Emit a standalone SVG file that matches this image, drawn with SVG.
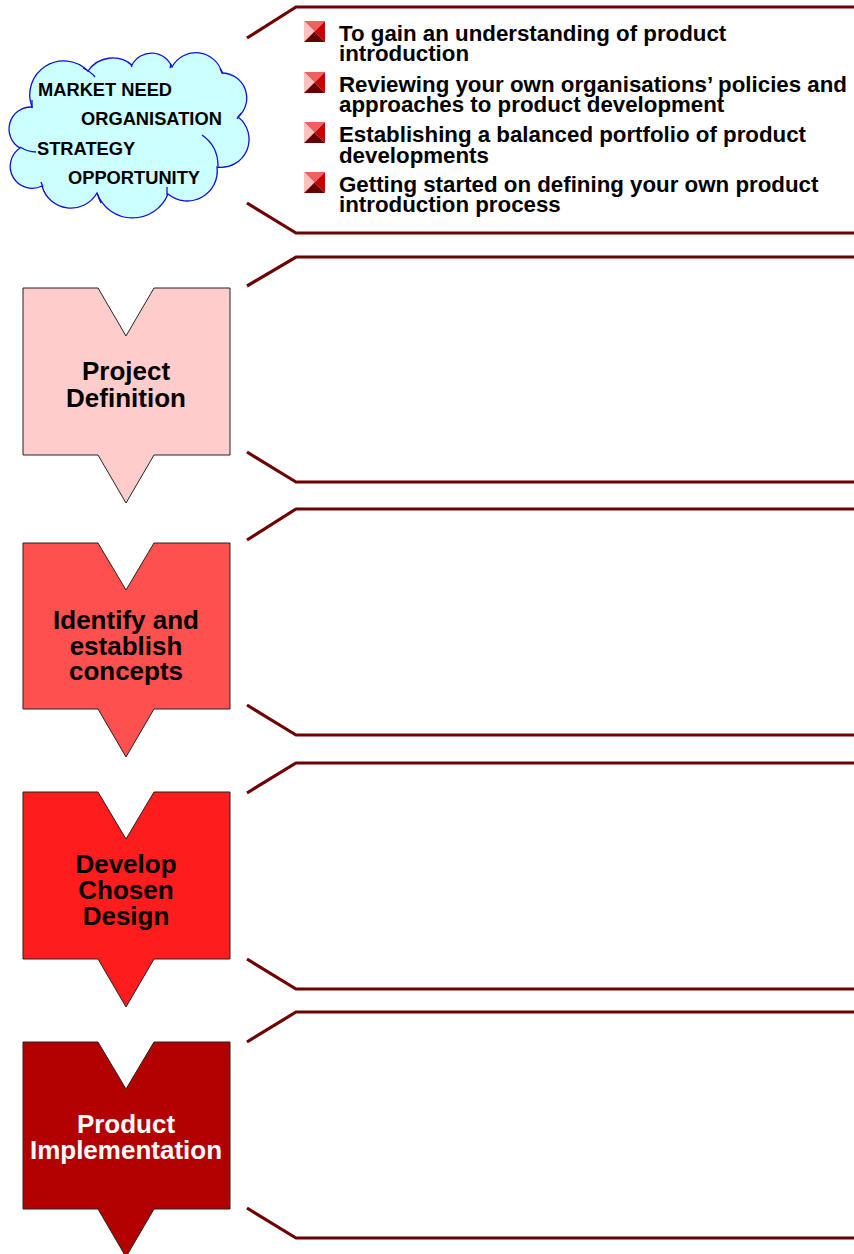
<svg xmlns="http://www.w3.org/2000/svg" width="854" height="1254" viewBox="0 0 854 1254">
<style>
.bk{fill:none;stroke:#6E0000;stroke-width:3.2;stroke-linejoin:miter}
.stage{stroke:#222;stroke-width:1}
.lbl{font-family:"Liberation Sans",Arial,sans-serif;font-weight:bold;font-size:26px;text-anchor:middle;fill:#000}
.bul{font-family:"Liberation Sans",Arial,sans-serif;font-weight:bold;font-size:22.3px;fill:#000}
.cl{font-family:"Liberation Sans",Arial,sans-serif;font-weight:bold;font-size:18.3px;fill:#000}
.cloud{fill:#CCFFFF;stroke:#1010D0;stroke-width:1.3}
.tail{fill:none;stroke:#1010D0;stroke-width:1.3}
</style>
<defs>
<g id="icon">
<polygon points="0,0 21,0 10.5,10.5" fill="#F06060"/>
<polygon points="0,0 10.5,10.5 0,21" fill="#FFC0C0"/>
<polygon points="21,0 21,21 10.5,10.5" fill="#CC0000"/>
<polygon points="0,21 10.5,10.5 21,21" fill="#650000"/>
</g>
</defs>
<rect width="854" height="1254" fill="#fff"/>

<g id="brackets">
<polyline class="bk" points="247,38 296,7 854,7"/>
<polyline class="bk" points="247,203 296,233 854,233"/>
<polyline class="bk" points="247,286 296,257 854,257"/>
<polyline class="bk" points="247,452 296,482 854,482"/>
<polyline class="bk" points="247,540 296,509 854,509"/>
<polyline class="bk" points="247,705 296,735 854,735"/>
<polyline class="bk" points="247,793 296,763 854,763"/>
<polyline class="bk" points="247,959 296,989 854,989"/>
<polyline class="bk" points="247,1042 296,1012 854,1012"/>
<polyline class="bk" points="247,1208 296,1238 854,1238"/>
</g>

<g id="cloud">
<path class="cloud" d="M32,107 A34,34 0 0 1 88,71 A30,30 0 0 1 132,65 A22,22 0 0 1 172,67 A27,27 0 0 1 222,73 A25,25 0 0 1 238,117 A28,28 0 0 1 217,167 A30,30 0 0 1 168,194 A38,38 0 0 1 97,193 A30,30 0 0 1 42,186 A22,22 0 0 1 20,148 A22,22 0 0 1 32,107 Z"/>
<path class="tail" d="M83,68 Q90,71 95,77"/>
<path class="tail" d="M128,62 Q131,64 132,67"/>
<path class="tail" d="M171,64 L170,68"/>
<path class="tail" d="M220,69 L223,73"/>
<path class="tail" d="M241,113 L237,119"/>
<path class="tail" d="M202,135 Q218,146 218,166"/>
<path class="tail" d="M167,187 L167,195"/>
<path class="tail" d="M97,193 Q99,199 101,203"/>
<path class="tail" d="M41,182 L43,187"/>
<path class="tail" d="M20,147 Q28,152 36,152"/>
<path class="tail" d="M32,100 L32,108"/>
<text class="cl" x="38" y="96">MARKET NEED</text>
<text class="cl" x="81" y="125">ORGANISATION</text>
<text class="cl" x="37" y="155">STRATEGY</text>
<text class="cl" x="68" y="184">OPPORTUNITY</text>
</g>

<g id="objectives">
<use href="#icon" x="304" y="21"/>
<text class="bul" x="339" y="41">To gain an understanding of product</text>
<text class="bul" x="339" y="61">introduction</text>
<use href="#icon" x="304" y="72"/>
<text class="bul" x="339" y="92">Reviewing your own organisations’ policies and</text>
<text class="bul" x="339" y="112">approaches to product development</text>
<use href="#icon" x="304" y="122"/>
<text class="bul" x="339" y="142">Establishing a balanced portfolio of product</text>
<text class="bul" x="339" y="163">developments</text>
<use href="#icon" x="304" y="172"/>
<text class="bul" x="339" y="192">Getting started on defining your own product</text>
<text class="bul" x="339" y="212">introduction process</text>
</g>

<g id="stage1">
<polygon class="stage" fill="#FFCCCC" points="23,288 98,288 126,336 154,288 230,288 230,455 154,455 126,503 98,455 23,455"/>
<text class="lbl" x="126" y="380">Project</text>
<text class="lbl" x="126" y="407">Definition</text>
</g>

<g id="stage2">
<polygon class="stage" fill="#FF5050" points="23,543 98,543 126,590 154,543 230,543 230,709 154,709 126,757 98,709 23,709"/>
<text class="lbl" x="126" y="629">Identify and</text>
<text class="lbl" x="126" y="655">establish</text>
<text class="lbl" x="126" y="680">concepts</text>
</g>

<g id="stage3">
<polygon class="stage" fill="#FF1C1C" points="23,792 98,792 126,839 154,792 230,792 230,959 154,959 126,1007 98,959 23,959"/>
<text class="lbl" x="126" y="873">Develop</text>
<text class="lbl" x="126" y="899">Chosen</text>
<text class="lbl" x="126" y="925">Design</text>
</g>

<g id="stage4">
<polygon class="stage" fill="#B30000" points="23,1042 98,1042 126,1089 154,1042 230,1042 230,1209 154,1209 126,1257 98,1209 23,1209"/>
<text class="lbl" x="126" y="1133" style="fill:#fff">Product</text>
<text class="lbl" x="126" y="1159" style="fill:#fff">Implementation</text>
</g>
</svg>
